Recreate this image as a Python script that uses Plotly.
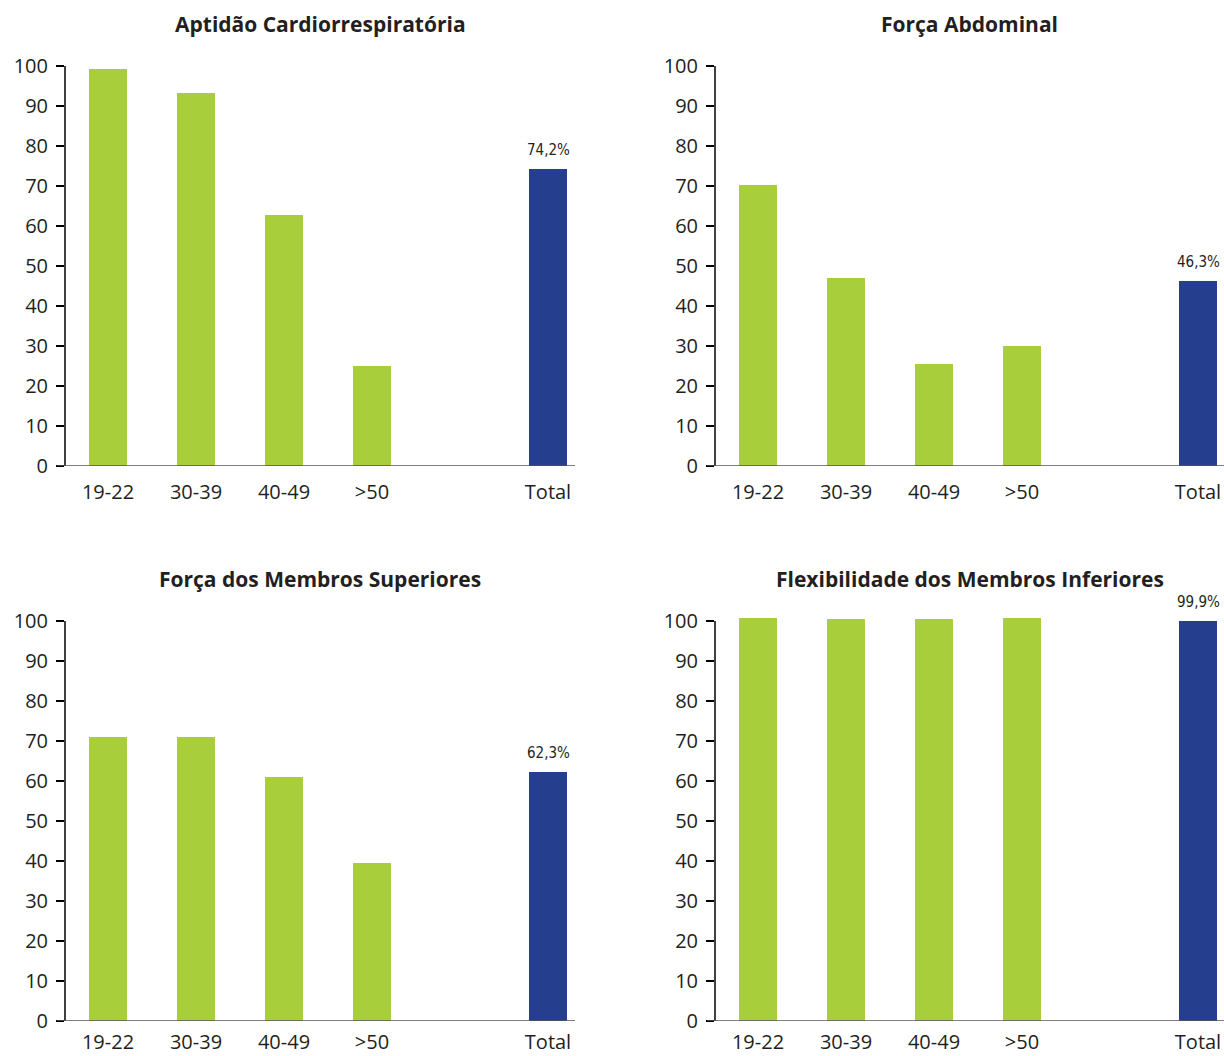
import plotly.graph_objects as go

# Age groups plus the overall total (slot 4 left empty as a gap)
categories = ["19-22", "30-39", "40-49", ">50", "Total"]
positions = [0, 1, 2, 3, 5]

titles = [
    "Aptidão Cardiorrespiratória",
    "Força Abdominal",
    "Força dos Membros Superiores",
    "Flexibilidade dos Membros Inferiores",
]

# Percentages per age group, then the total
cardio = [99.2, 93.2, 62.8, 25.0, 74.2]
abdominal = [70.2, 47.0, 25.5, 30.0, 46.3]
superiores = [71.0, 71.0, 61.0, 39.5, 62.3]
flexibilidade = [100.7, 100.5, 100.5, 100.7, 99.9]

total_labels = ["74,2%", "46,3%", "62,3%", "99,9%"]

series = [cardio, abdominal, superiores, flexibilidade]

GREEN = "#A8CE3B"
BLUE = "#253F8E"
TEXT = "#231F20"
FONT = "Open Sans"
NARROW = "DejaVu Sans Condensed, Liberation Sans Narrow, Open Sans"

W, H = 1224, 1056
# Panel geometry in pixels: (left, right, top, bottom)
panels = [
    (65, 575, 62, 466),
    (715, 1224, 62, 466),
    (65, 575, 617, 1021),
    (715, 1224, 617, 1021),
]
X_FIRST = 108  # pixel centre of the first category in the left column
SLOT = 88.0

fig = go.Figure()
layout = dict(
    width=W, height=H,
    margin=dict(l=0, r=0, t=0, b=0, autoexpand=False),
    paper_bgcolor="white", plot_bgcolor="white",
    showlegend=False,
    bargap=0,
    annotations=[], shapes=[],
    font=dict(family=FONT, color=TEXT),
)

for i, (vals, title, lab, (l, r, t, b)) in enumerate(zip(series, titles, total_labels, panels)):
    n = "" if i == 0 else str(i + 1)
    xa, ya = "x" + n, "y" + n
    colors = [GREEN] * 4 + [BLUE]
    fig.add_trace(go.Bar(
        x=positions, y=vals, width=0.432,
        marker=dict(color=colors, line=dict(width=0)),
        xaxis=xa, yaxis=ya, hoverinfo="skip",
    ))
    first = X_FIRST + (0 if l < 600 else 650)
    x0 = (l - first) / SLOT
    x1 = (r - first) / SLOT
    # bottom row keeps its category labels a little closer so they stay on the page
    label_gap = 8 if i < 2 else 3
    layout["xaxis" + n] = dict(
        domain=[l / W, r / W], range=[x0, x1], anchor=ya,
        tickvals=positions, ticktext=categories,
        tickfont=dict(size=20, color=TEXT, family=FONT),
        ticks="outside", ticklen=label_gap, tickcolor="rgba(0,0,0,0)",
        showgrid=False, zeroline=False, showline=False,
        automargin=False, fixedrange=True,
    )
    layout["yaxis" + n] = dict(
        domain=[(H - b) / H, (H - t) / H], range=[0, 101], anchor=xa,
        tickvals=list(range(0, 101, 10)),
        tickfont=dict(size=20, color=TEXT, family=FONT),
        ticks="outside", ticklen=8, tickcolor="black", tickwidth=1.5,
        ticklabelstandoff=4,
        showgrid=False, zeroline=False, showline=False,
        automargin=False, fixedrange=True,
    )
    # Vertical axis line from 0 to 100
    layout["shapes"].append(dict(
        type="line", xref=xa + " domain", yref=ya,
        x0=0, x1=0, y0=0, y1=100,
        line=dict(color="black", width=1.5),
    ))
    # Baseline, extending left to meet the tick marks
    layout["shapes"].append(dict(
        type="line", xref=xa + " domain", yref=ya,
        x0=-8 / (r - l), x1=1, y0=0, y1=0,
        line=dict(color="#555555", width=1.5),
    ))
    # Panel title
    layout["annotations"].append(dict(
        text="<b>" + title + "</b>", xref=xa + " domain", yref="paper",
        x=0.5, y=(H - (t - 38)) / H, xanchor="center", yanchor="middle",
        showarrow=False, font=dict(size=21, color=TEXT, family=FONT),
    ))
    # Value label on the total bar
    layout["annotations"].append(dict(
        text=lab, xref=xa, yref=ya, x=positions[-1], y=vals[-1],
        xanchor="center", yanchor="bottom", yshift=8, showarrow=False,
        font=dict(size=15, color=TEXT, family=NARROW),
    ))

fig.update_layout(**layout)
fig.write_html("out.html")
